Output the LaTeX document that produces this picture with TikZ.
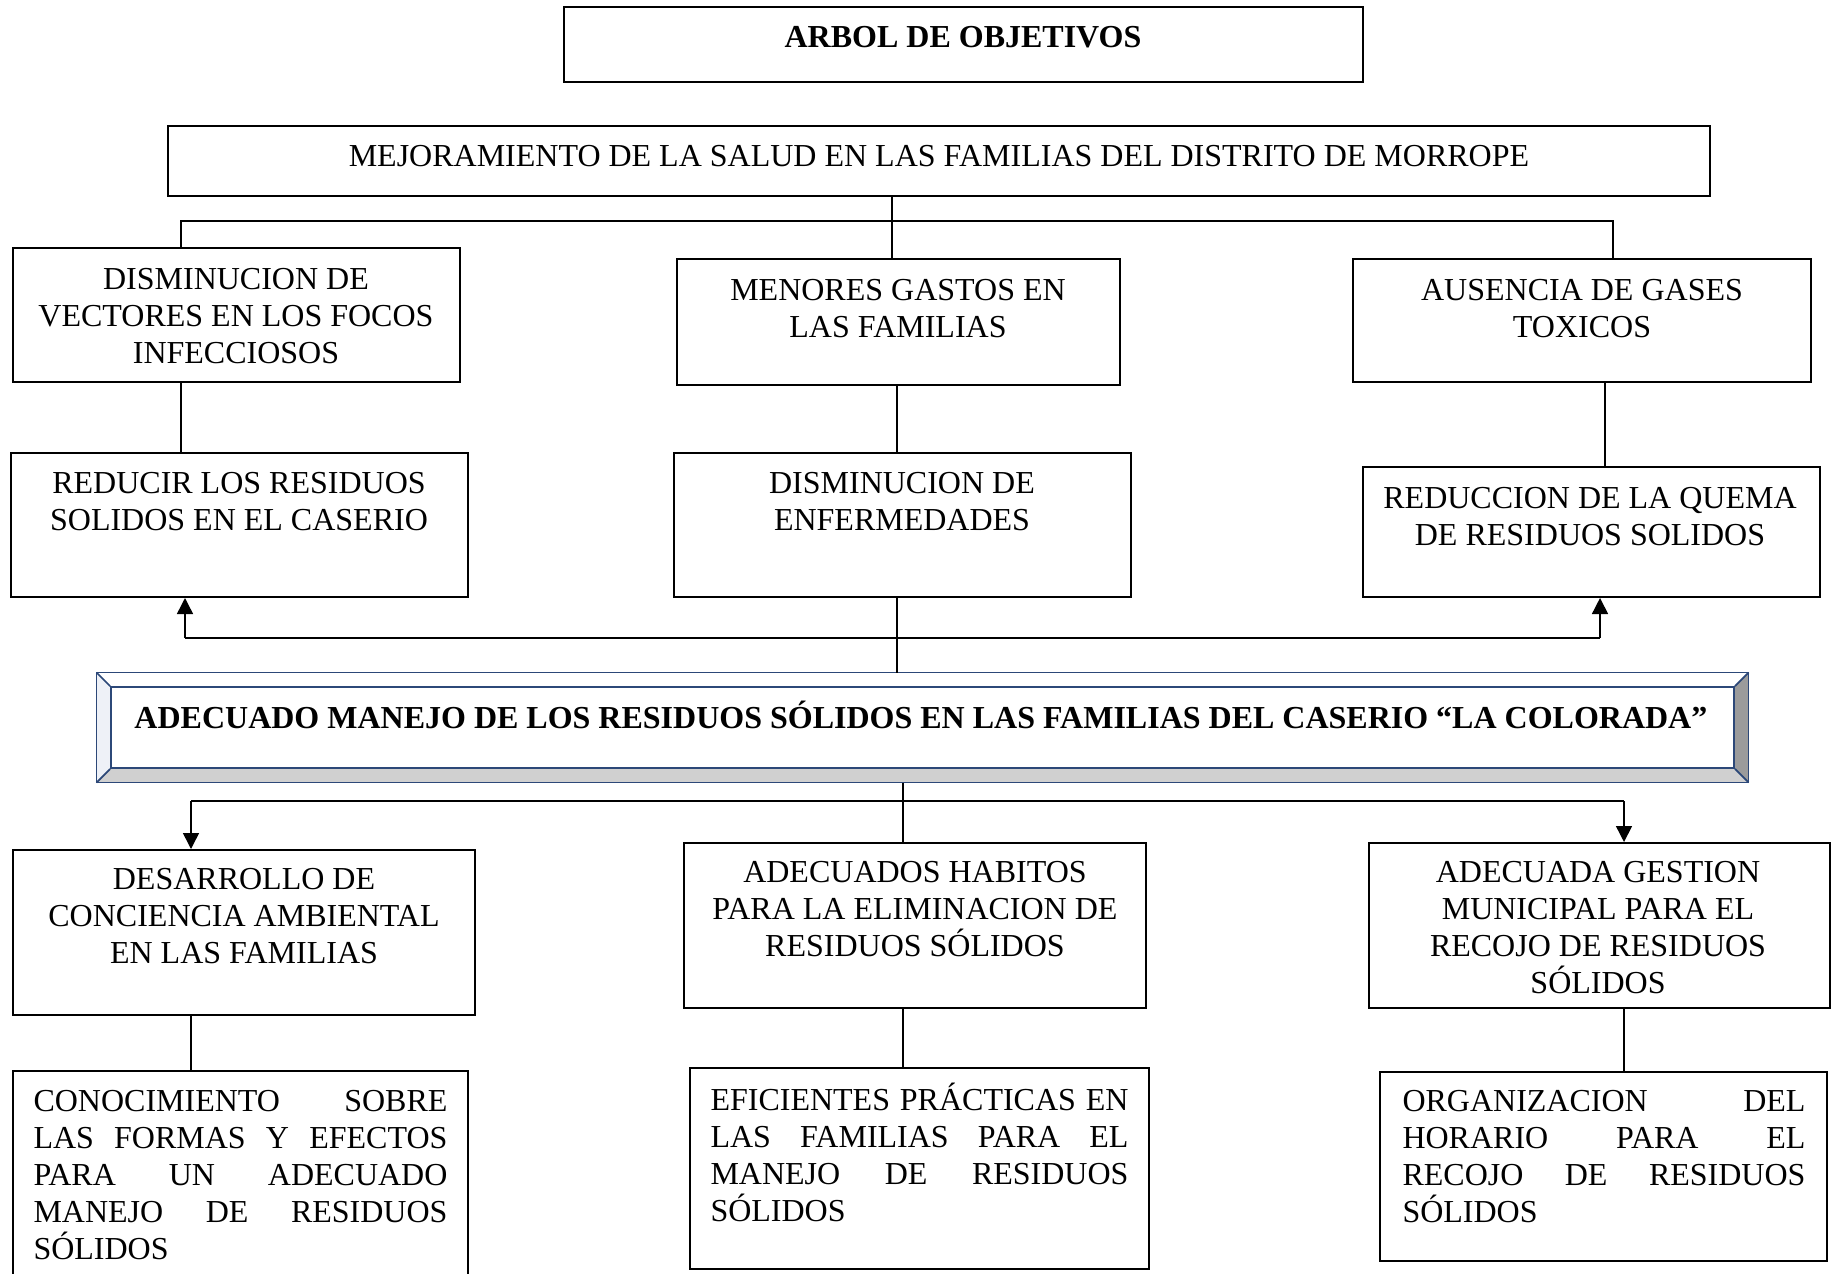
\documentclass[tikz,border=0pt]{standalone}
\usepackage{fontspec}
\setmainfont{Liberation Serif}
\usetikzlibrary{fit, arrows.meta}

\definecolor{bevelline}{RGB}{44,72,120}
\definecolor{bevelleft}{RGB}{238,241,247}
\definecolor{bevelbottom}{RGB}{208,208,208}
\definecolor{bevelright}{RGB}{155,155,155}

\begin{document}
\begin{tikzpicture}[x=0.4pt, y=-0.4pt,
  box/.style={draw, line width=0.8pt, inner sep=0pt},
  txt/.style={inner sep=0pt, align=center, font=\fontsize{12.8}{14.8}\selectfont},
  btxt/.style={txt, font=\fontsize{12.8}{14.8}\selectfont\bfseries},
  jtxt/.style={inner sep=0pt, align=left, anchor=north west, font=\fontsize{12.8}{14.8}\selectfont},
  bevel/.style={draw=bevelline, line width=0.7pt},
  link/.style={line width=0.6pt},
  arrow/.style={link, -{Triangle[width=6.4pt, length=6.4pt]}}]

  \useasboundingbox (0,0) rectangle (1831,1273);

  % title
  \node[box, fit={(564,7) (1363,82)}] (title) {};
  \node[btxt, anchor=base] (titlet) at (963,47) {ARBOL DE OBJETIVOS};

  % end goal
  \node[box, fit={(168,126) (1710,196)}] (mej) {};
  \node[txt, anchor=base] (mejt) at (939,166) {MEJORAMIENTO DE LA SALUD EN LAS FAMILIAS DEL DISTRITO DE MORROPE};

  % first row of ends
  \node[box, fit={(13,248) (460,382)}] (l1) {};
  \node[box, fit={(677,259) (1120,385)}] (m1) {};
  \node[box, fit={(1353,259) (1811,382)}] (r1) {};
  \node[txt, anchor=north] (l1t) at (236,268) {DISMINUCION DE\\VECTORES EN LOS FOCOS\\INFECCIOSOS};
  \node[txt, anchor=north] (m1t) at (898,279) {MENORES GASTOS EN\\LAS FAMILIAS};
  \node[txt, anchor=north] (r1t) at (1582,279) {AUSENCIA DE GASES\\TOXICOS};

  % second row of ends
  \node[box, fit={(11,453) (468,597)}] (l2) {};
  \node[box, fit={(674,453) (1131,597)}] (m2) {};
  \node[box, fit={(1363,467) (1820,597)}] (r2) {};
  \node[txt, anchor=north] (l2t) at (239,472) {REDUCIR LOS RESIDUOS\\SOLIDOS EN EL CASERIO};
  \node[txt, anchor=north] (m2t) at (902,472) {DISMINUCION DE\\ENFERMEDADES};
  \node[txt, anchor=north] (r2t) at (1590,487) {REDUCCION DE LA QUEMA\\DE RESIDUOS SOLIDOS};

  % central objective, bevelled frame
  \node[fit={(97,673) (1748,782)}, inner sep=0pt, fill=bevelbottom] (cen) {};
  \fill[white] (cen.north west) -- (cen.north east) -- (1734,687) -- (111,687) -- cycle;
  \fill[bevelleft] (cen.north west) -- (111,687) -- (111,768) -- (cen.south west) -- cycle;
  \fill[bevelright] (cen.north east) -- (1734,687) -- (1734,768) -- (cen.south east) -- cycle;
  \node[bevel, fill=white, inner sep=0pt, fit={(111,687) (1734,768)}] (cenin) {};
  \draw[bevel] (cen.north west) rectangle (cen.south east);
  \foreach \c in {north west, north east, south west, south east}
    \draw[bevel] (cen.\c) -- (cenin.\c);
  \node[btxt, anchor=base] (cent) at (921,728) {ADECUADO MANEJO DE LOS RESIDUOS SÓLIDOS EN LAS FAMILIAS DEL CASERIO “LA COLORADA”};

  % first row of means
  \node[box, fit={(13,850) (475,1015)}] (l3) {};
  \node[box, fit={(684,843) (1146,1008)}] (m3) {};
  \node[box, fit={(1369,843) (1830,1008)}] (r3) {};
  \node[txt, anchor=north] (l3t) at (244,868) {DESARROLLO DE\\CONCIENCIA AMBIENTAL\\EN LAS FAMILIAS};
  \node[txt, anchor=north] (m3t) at (915,861) {ADECUADOS HABITOS\\PARA LA ELIMINACION DE\\RESIDUOS SÓLIDOS};
  \node[txt, anchor=north] (r3t) at (1598,861) {ADECUADA GESTION\\MUNICIPAL PARA EL\\RECOJO DE RESIDUOS\\SÓLIDOS};

  % second row of means
  \node[box, fit={(13,1071) (468,1290)}] (l4) {};
  \node[box, fit={(690,1068) (1149,1269)}] (m4) {};
  \node[box, fit={(1380,1072) (1827,1261)}] (r4) {};
  \node[jtxt, text width=165.6pt] (l4t) at (33,1090)
    {CONOCIMIENTO\hfill SOBRE\\LAS\hfill FORMAS\hfill Y\hfill EFECTOS\\PARA\hfill UN\hfill ADECUADO\\MANEJO\hfill DE\hfill RESIDUOS\\SÓLIDOS};
  \node[jtxt, text width=167.2pt] (m4t) at (710,1083)
    {EFICIENTES\hfill PRÁCTICAS\hfill EN\\LAS\hfill FAMILIAS\hfill PARA\hfill EL\\MANEJO\hfill DE\hfill RESIDUOS\\SÓLIDOS};
  \node[jtxt, text width=161.2pt] (r4t) at (1402,1090)
    {ORGANIZACION\hfill DEL\\HORARIO\hfill PARA\hfill EL\\RECOJO\hfill DE\hfill RESIDUOS\\SÓLIDOS};

  % junctions
  \coordinate (tl) at (181,221);
  \coordinate (tm) at (892,221);
  \coordinate (tr) at (1613,221);
  \coordinate (rc) at (1605,420);
  \coordinate (ul) at (185,638);
  \coordinate (um) at (897,638);
  \coordinate (ur) at (1600,638);
  \coordinate (dl) at (191,801);
  \coordinate (dm) at (903,801);
  \coordinate (dr) at (1624,801);

  % upper tree
  \draw[link] (tm |- mej.south) -- (tm |- m1.north);
  \draw[link] (tl |- l1.north) -- (tl) -- (tr) -- (tr |- r1.north);
  \draw[link] (l1.south -| tl) -- (l2.north -| tl);
  \draw[link] (m1.south -| um) -- (m2.north -| um);
  \draw[link] (r1.south -| rc) -- (r2.north -| rc);
  \draw[link] (m2.south -| um) -- (cen.north -| um);
  \draw[link] (ul) -- (ur);
  \draw[arrow] (ul) -- (ul |- l2.south);
  \draw[arrow] (ur) -- (ur |- r2.south);

  % lower tree
  \draw[link] (dm |- cen.south) -- (dm |- m3.north);
  \draw[link] (dl) -- (dr);
  \draw[arrow] (dl) -- (dl |- l3.north);
  \draw[arrow] (dr) -- (dr |- r3.north);
  \draw[link] (l3.south -| dl) -- (l4.north -| dl);
  \draw[link] (m3.south -| dm) -- (m4.north -| dm);
  \draw[link] (r3.south -| dr) -- (r4.north -| dr);
\end{tikzpicture}
\end{document}
